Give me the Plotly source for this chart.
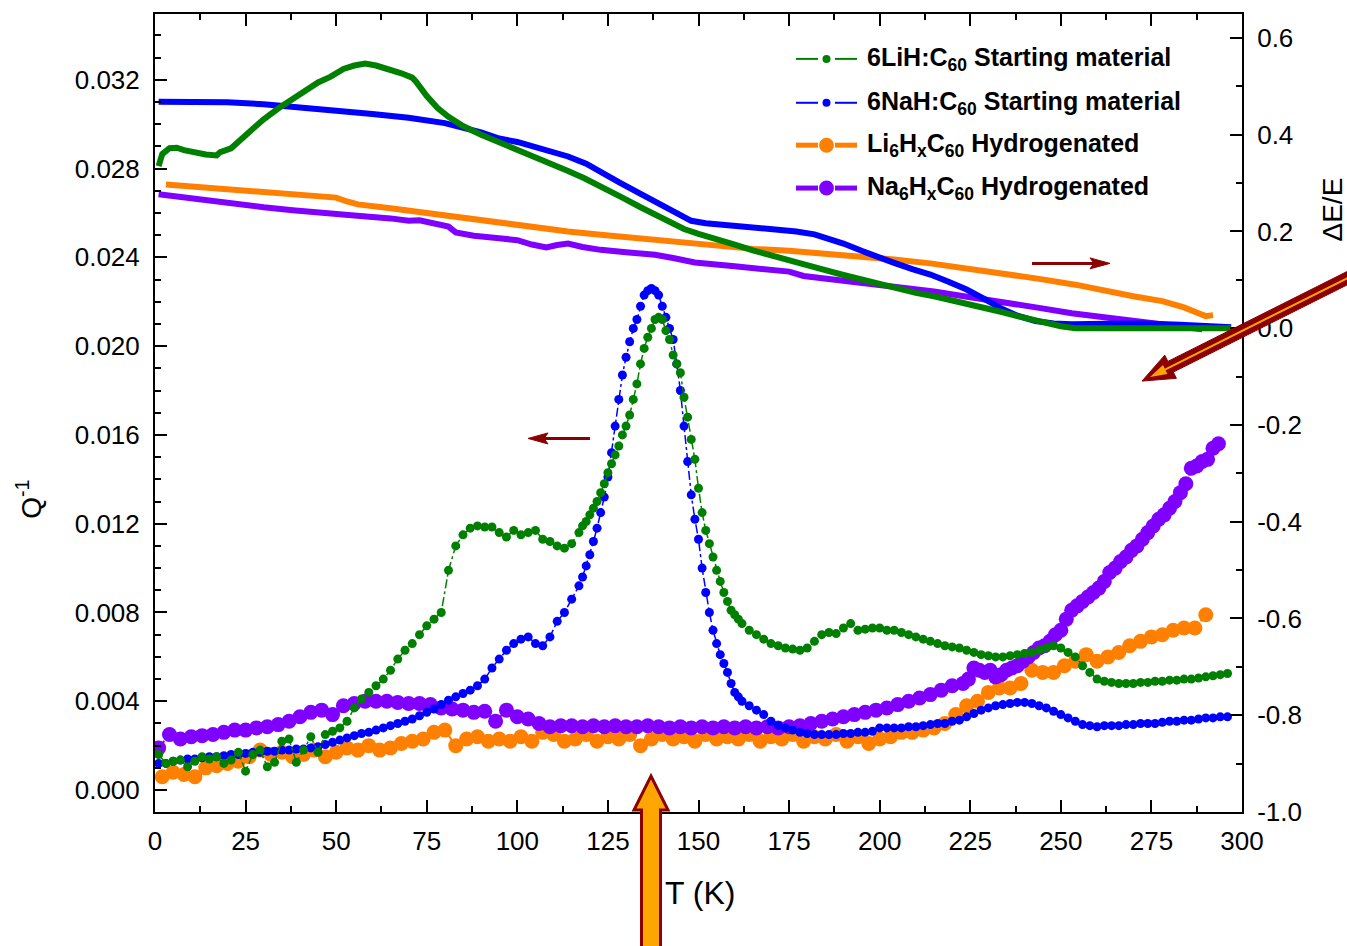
import plotly.graph_objects as go

# ---------------- data: internal friction Q^-1 (left axis, units of 1e-3) ----------------
T_START = [1, 3, 5, 7, 9, 11, 13, 15, 17, 19, 21, 23, 25, 27, 29, 31, 33, 35, 37, 39,
           41, 43, 45, 47, 49, 51, 53, 55, 57, 59, 61, 63, 65, 67, 69, 71, 73, 75, 77, 79,
           81, 83, 85, 87, 89, 91, 93, 95, 97, 99, 101, 103, 105, 107, 109, 111, 113, 115, 117,
           118, 119, 120, 121, 122, 123, 124, 125, 126, 127, 128, 129, 130, 131, 132, 133, 134,
           135, 136, 137, 138, 139, 140, 141, 142, 143, 144, 145, 146, 147, 148, 149, 150, 151,
           152, 153, 154, 155, 156, 157, 158, 159, 160, 161, 162,
           164, 166, 168, 170, 172, 174, 176, 178, 180, 182, 184, 186, 188, 190, 192, 194, 196,
           198, 200, 202, 204, 206, 208, 210, 212, 214, 216, 218, 220, 222, 224, 226, 228, 230,
           232, 234, 236, 238, 240, 242, 244, 246, 248, 250, 252, 254, 256, 258, 260, 262, 264,
           266, 268, 270, 272, 274, 276, 278, 280, 282, 284, 286, 288, 290, 292, 294, 296]

Q_NAH_START = [1.2, 1.2, 1.3, 1.35, 1.4, 1.4, 1.45, 1.5, 1.5, 1.55, 1.6, 1.6, 1.65, 1.7, 1.7,
               1.75, 1.75, 1.8, 1.8, 1.85, 1.85, 1.9, 1.95, 2.05, 2.15, 2.25, 2.35, 2.45, 2.55,
               2.6, 2.7, 2.8, 2.9, 3.0, 3.1, 3.2, 3.35, 3.5, 3.65, 3.85, 4.05, 4.2, 4.35, 4.5,
               4.7, 5.0, 5.5, 5.9, 6.3, 6.6, 6.8, 6.9, 6.6, 6.5, 6.9, 7.6, 8.0, 8.6, 9.2,
               9.6, 10.1, 10.6, 11.2, 11.8, 12.5, 13.2, 14.1, 15.2, 16.4, 17.6, 18.7, 19.5, 20.2,
               20.8, 21.2, 21.8, 22.3, 22.5, 22.6, 22.5, 22.3, 21.8, 21.3, 20.8, 20.3, 19.2, 18.0,
               16.4, 14.8, 13.3, 12.2, 11.3, 10.0, 8.9, 8.0, 7.2, 6.6, 6.1, 5.7, 5.3, 4.8, 4.4,
               4.2, 4.0,
               3.8, 3.6, 3.4, 3.1, 2.9, 2.8, 2.7, 2.6, 2.55, 2.5, 2.5, 2.5, 2.5, 2.55, 2.55, 2.6,
               2.6, 2.65, 2.8, 2.8, 2.8, 2.8, 2.85, 2.85, 2.9, 2.95, 3.0, 3.0, 3.1, 3.15, 3.3,
               3.45, 3.6, 3.7, 3.8, 3.85, 3.9, 3.95, 3.95, 3.9, 3.8, 3.7, 3.55, 3.4, 3.25, 3.1,
               2.95, 2.9, 2.85, 2.9, 2.9, 2.9, 2.95, 2.95, 3.0, 3.0, 3.0, 3.05, 3.1, 3.1, 3.15,
               3.15, 3.2, 3.25, 3.25, 3.3, 3.3]

Q_LIH_START = [1.6, 1.2, 1.3, 1.35, 1.05, 1.3, 1.5, 1.4, 1.5, 1.2, 1.35, 1.7, 0.85, 1.6, 1.8,
               1.05, 1.25, 2.2, 2.3, 1.25, 1.8, 2.4, 1.7, 2.5, 2.65, 2.8, 3.1, 3.7, 4.1, 4.4,
               4.7, 5.0, 5.4, 5.9, 6.3, 6.6, 7.0, 7.4, 7.7, 8.0, 9.9, 11.0, 11.5, 11.8, 11.9,
               11.85, 11.85, 11.6, 11.4, 11.7, 11.5, 11.6, 11.7, 11.3, 11.2, 11.0, 10.9, 11.1, 11.6,
               11.9, 12.1, 12.4, 12.7, 13.0, 13.4, 13.8, 14.3, 14.7, 15.1, 15.5, 16.0, 16.4, 16.9,
               17.6, 18.3, 19.2, 19.9, 20.4, 20.8, 21.2, 21.3, 21.2, 20.7, 20.3, 19.6, 19.2, 18.8,
               17.7, 16.8, 15.8, 14.9, 13.6, 12.5, 11.7, 11.1, 10.5, 9.9, 9.4, 8.9, 8.5, 8.1,
               7.9, 7.7, 7.5,
               7.2, 7.0, 6.8, 6.6, 6.5, 6.4, 6.35, 6.3, 6.4, 6.7, 7.0, 7.1, 7.05, 7.3, 7.5, 7.2,
               7.25, 7.3, 7.3, 7.2, 7.2, 7.1, 7.0, 6.9, 6.8, 6.7, 6.6, 6.5, 6.45, 6.4, 6.3, 6.2,
               6.1, 6.05, 6.0, 6.0, 6.05, 6.1, 6.15, 6.2, 6.3, 6.4, 6.5, 6.4, 6.2, 6.0, 5.6, 5.3,
               5.0, 4.9, 4.85, 4.8, 4.8, 4.8, 4.85, 4.85, 4.9, 4.9, 4.95, 4.95, 5.0, 5.0, 5.05,
               5.1, 5.15, 5.2, 5.25]

T_LI_HYD = [2, 5, 8, 11, 14, 17, 20, 23, 26, 29, 32, 35, 38, 41, 44, 47, 50, 53, 56, 59, 62,
            65, 68, 71, 74, 77, 80, 83, 86, 89, 92, 95, 98, 101, 104, 107, 110, 113, 116, 119,
            122, 125, 128, 131, 134, 137, 140, 143, 146, 149, 152, 155, 158, 161, 164, 167, 170,
            173, 176, 179, 182, 185, 188, 191, 194, 197, 200, 203, 206, 209, 212, 215, 218, 221,
            224, 227, 230, 233, 236, 239, 242, 245, 248, 251, 254, 257, 260, 263, 266, 269, 272,
            275, 278, 281, 284, 287, 290]
Q_LI_HYD = [0.6, 0.8, 0.7, 0.6, 1.0, 1.1, 1.2, 1.3, 1.5, 1.8, 1.6, 1.7, 1.5, 1.6, 1.8, 1.5,
            1.7, 1.9, 1.8, 2.0, 1.8, 1.9, 2.1, 2.2, 2.3, 2.6, 2.7, 2.0, 2.3, 2.4, 2.2, 2.3, 2.2,
            2.4, 2.2, 2.6, 2.5, 2.2, 2.3, 2.5, 2.2, 2.4, 2.3, 2.5, 2.0, 2.3, 2.5, 2.3, 2.4, 2.2,
            2.5, 2.3, 2.4, 2.3, 2.5, 2.2, 2.4, 2.3, 2.5, 2.2, 2.4, 2.3, 2.5, 2.2, 2.4, 2.1, 2.3,
            2.4, 2.6, 2.6, 2.7, 2.8, 3.0, 3.4, 3.8, 4.0, 4.4, 4.6, 4.6, 4.8, 5.4, 5.3, 5.3, 5.6,
            5.8, 6.1, 5.8, 6.0, 6.2, 6.5, 6.7, 6.9, 7.0, 7.2, 7.3, 7.3, 7.9]

T_NA_HYD = [1, 4, 7, 10, 13, 16, 19, 22, 25, 28, 31, 34, 37, 40, 43, 46, 49, 52, 55, 58, 61,
            64, 67, 70, 73, 76, 79, 82, 85, 88, 91, 94, 97, 100, 103, 106, 109, 112, 115, 118,
            121, 124, 127, 130, 133, 136, 139, 142, 145, 148, 151, 154, 157, 160, 163, 166, 169,
            172, 175, 178, 181, 184, 187, 190, 193, 196, 199, 202, 205, 208, 211, 214, 217, 220,
            223, 224.5, 226, 227.5, 229, 230.5, 232, 233.5, 235, 236.5, 238, 239.5, 241, 242.5,
            244, 245.5, 247, 248.5, 250, 251.5, 253, 254.5, 256, 257.5, 259, 260.5, 262, 263.5,
            265, 266.5, 268, 269.5, 271, 272.5, 274, 275.5, 277, 278.5, 280, 281.5, 283, 284.5,
            286, 287.5, 289, 290.5, 292, 293.5]
Q_NA_HYD = [1.9, 2.5, 2.3, 2.4, 2.45, 2.5, 2.6, 2.7, 2.7, 2.8, 2.85, 2.95, 3.1, 3.3, 3.5, 3.6,
            3.4, 3.8, 3.9, 4.0, 4.0, 4.0, 3.95, 3.9, 3.9, 3.85, 3.7, 3.65, 3.6, 3.5, 3.55, 3.1,
            3.6, 3.3, 3.2, 3.0, 2.85, 2.9, 2.9, 2.85, 2.9, 2.85, 2.9, 2.85, 2.85, 2.9, 2.85, 2.8,
            2.85, 2.8, 2.85, 2.8, 2.85, 2.8, 2.85, 2.8, 2.85, 2.8, 2.85, 2.9, 3.0, 3.1, 3.2, 3.3,
            3.4, 3.5, 3.6, 3.7, 3.85, 4.0, 4.15, 4.3, 4.5, 4.7,
            4.8, 5.0, 5.5, 5.4, 5.3, 5.4, 5.1, 5.2, 5.4, 5.5, 5.6, 5.8, 6.0, 6.2, 6.4, 6.5, 6.7,
            7.0, 7.2, 7.7, 8.1, 8.3, 8.5, 8.7, 8.9, 9.1, 9.4, 9.8, 10.0, 10.3, 10.5, 10.8, 11.0,
            11.3, 11.6, 11.9, 12.2, 12.4, 12.7, 13.0, 13.4, 13.8, 14.5, 14.6, 14.8, 14.9, 15.4,
            15.6]

# ---------------- data: modulus change dE/E (right axis) ----------------
T_LIH_DE = [1, 2, 4, 6, 8, 11, 14, 17, 18, 21, 23, 25, 27, 30, 34, 38, 42, 45, 48.5, 52, 55,
            58, 61, 64, 68, 71, 72, 75, 78, 81, 85, 90, 95, 100, 104, 109, 114, 118.5, 124, 129,
            134, 138, 142, 146, 150, 155, 160, 165, 170, 175, 180, 184, 190, 195, 200, 205, 210,
            215, 220, 225, 230, 234, 238, 242, 246, 250, 254, 260, 266, 273, 280, 287, 293, 297]
DE_LIH = [0.335, 0.36, 0.372, 0.373, 0.368, 0.362, 0.359, 0.357, 0.364, 0.372, 0.385, 0.398,
          0.415, 0.432, 0.454, 0.475, 0.495, 0.508, 0.52, 0.536, 0.543, 0.547, 0.543, 0.537,
          0.527, 0.518, 0.51, 0.48, 0.455, 0.437, 0.418, 0.4, 0.385, 0.37, 0.358, 0.343, 0.325,
          0.31, 0.29, 0.27, 0.25, 0.235, 0.22, 0.205, 0.195, 0.185, 0.173, 0.161, 0.15, 0.14,
          0.13, 0.122, 0.11, 0.1, 0.092, 0.083, 0.073, 0.066, 0.058, 0.05, 0.04, 0.033, 0.025,
          0.018, 0.01, 0.004, 0.0, 0.0, 0.002, 0.003, 0.003, 0.002, 0.001, 0.0]

T_NAH_DE = [1, 10, 20, 30, 40, 50, 60, 70, 80, 90, 95, 100, 105, 110, 114, 119, 123, 128, 133,
            138, 142, 145, 148, 152, 157, 162, 167, 172, 177, 182, 186, 190, 195, 199, 204, 209,
            214, 219, 224, 229, 234, 238, 243, 248, 253, 263, 273, 283, 293, 297]
DE_NAH = [0.468, 0.468, 0.467, 0.463, 0.457, 0.45, 0.443, 0.435, 0.424, 0.405, 0.392, 0.385,
          0.375, 0.363, 0.355, 0.34, 0.322, 0.302, 0.282, 0.262, 0.243, 0.232, 0.222, 0.217,
          0.214, 0.211, 0.208, 0.204, 0.2, 0.194, 0.186, 0.175, 0.16, 0.148, 0.135, 0.122,
          0.111, 0.096, 0.08, 0.06, 0.039, 0.026, 0.015, 0.01, 0.008, 0.009, 0.01, 0.007,
          0.004, 0.002]

T_LI_HYD_DE = [3, 10, 18, 25, 32, 40, 47, 50, 53, 56, 65, 75, 85, 95, 104, 114, 123, 133, 141,
               149, 157, 165, 175, 184, 194, 204, 214, 224, 234, 244, 254, 263, 270, 278, 284,
               288, 290, 292]
DE_LI_HYD = [0.297, 0.293, 0.289, 0.284, 0.279, 0.274, 0.27, 0.27, 0.262, 0.256, 0.248, 0.238,
             0.228, 0.217, 0.208, 0.2, 0.193, 0.186, 0.181, 0.176, 0.169, 0.164, 0.16, 0.155,
             0.149, 0.142, 0.134, 0.124, 0.113, 0.102, 0.09, 0.076, 0.066, 0.056, 0.043, 0.031,
             0.025, 0.027]

T_NA_HYD_DE = [1, 8, 15, 22, 30, 38, 46, 55, 65, 70, 73, 78, 81, 83, 88, 95, 100, 104, 108, 111,
               114, 118, 123, 130, 138, 143, 149, 160, 170, 175, 179, 190, 204, 215, 225, 234,
               244, 253, 263, 273, 281, 289]
DE_NA_HYD = [0.277, 0.27, 0.264, 0.257, 0.25, 0.244, 0.238, 0.233, 0.227, 0.222, 0.223, 0.216,
             0.21, 0.198, 0.191, 0.186, 0.182, 0.173, 0.167, 0.172, 0.175, 0.168, 0.162, 0.157,
             0.152, 0.145, 0.136, 0.128, 0.121, 0.117, 0.108, 0.098, 0.087, 0.076, 0.064, 0.055,
             0.042, 0.031, 0.022, 0.014, 0.007, -0.002]

# ---------------- axes ticks ----------------
X_TICKS = [0, 25, 50, 75, 100, 125, 150, 175, 200, 225, 250, 275, 300]
Q_TICKS = [0.000, 0.004, 0.008, 0.012, 0.016, 0.020, 0.024, 0.028, 0.032]
DE_TICKS = [-1.0, -0.8, -0.6, -0.4, -0.2, 0.0, 0.2, 0.4, 0.6]
DE_TICK_TEXT = ["-1.0", "-0.8", "-0.6", "-0.4", "-0.2", "0.0", "0.2", "0.4", "0.6"]

LEGEND_TEXT = [
    "6LiH:C<sub>60</sub> Starting material",
    "6NaH:C<sub>60</sub> Starting material",
    "Li<sub>6</sub>H<sub>x</sub>C<sub>60</sub> Hydrogenated",
    "Na<sub>6</sub>H<sub>x</sub>C<sub>60</sub> Hydrogenated",
]

GREEN, BLUE, ORANGE, PURPLE = "#008000", "#0000FF", "#FF8000", "#8000FF"
DARK_RED, ARROW_FILL = "#8B0000", "#FFA500"
FONT = "Arial, Liberation Sans, sans-serif"

# ---------------- geometry ----------------
W, H = 1347, 946
PL, PR, PT, PB = 155, 1242, 12, 812


def px(x):
    return (x - PL) / (PR - PL)


def py(y):
    return (PB - y) / (PB - PT)


def path_of(points):
    pts = [f"{px(x):.5f},{py(y):.5f}" for x, y in points]
    return "M " + " L ".join(pts) + " Z"


fig = go.Figure()

# modulus curves (right axis)
for t, v, c in [(T_LI_HYD_DE, DE_LI_HYD, ORANGE), (T_NA_HYD_DE, DE_NA_HYD, PURPLE),
                (T_NAH_DE, DE_NAH, BLUE), (T_LIH_DE, DE_LIH, GREEN)]:
    fig.add_trace(go.Scatter(x=t, y=v, mode="lines", yaxis="y2",
                             line=dict(color=c, width=6), showlegend=False,
                             hoverinfo="skip"))

# internal friction curves (left axis)
for t, q, c, size, lw in [(T_LI_HYD, Q_LI_HYD, ORANGE, 15, 2),
                          (T_NA_HYD, Q_NA_HYD, PURPLE, 15, 2),
                          (T_START, Q_NAH_START, BLUE, 9, 1.5),
                          (T_START, Q_LIH_START, GREEN, 9, 1.5)]:
    fig.add_trace(go.Scatter(x=t, y=[v / 1000 for v in q], mode="lines+markers",
                             line=dict(color=c, width=lw, dash="dashdot"),
                             marker=dict(color=c, size=size, line=dict(width=0)),
                             showlegend=False, hoverinfo="skip"))

tickfont = dict(family=FONT, size=26, color="black")
fig.update_layout(
    width=W, height=H,
    margin=dict(l=PL, r=W - PR, t=PT, b=H - PB),
    paper_bgcolor="white", plot_bgcolor="white",
    showlegend=False,
    xaxis=dict(range=[0, 300], tickvals=X_TICKS, ticks="inside", ticklen=12, tickwidth=2,
               tickcolor="black", showline=True, linewidth=2, linecolor="black",
               mirror="ticks", showgrid=False, zeroline=False, tickfont=tickfont,
               ticklabelstandoff=5,
               minor=dict(dtick=12.5, tick0=0, ticks="inside", ticklen=6, tickwidth=2,
                          tickcolor="black", showgrid=False)),
    yaxis=dict(range=[-0.000989, 0.034966], tickvals=Q_TICKS, tickformat=".3f",
               ticks="inside", ticklen=12, tickwidth=2, tickcolor="black", showline=True,
               linewidth=2, linecolor="black", showgrid=False, zeroline=False,
               tickfont=tickfont, ticklabelstandoff=8,
               minor=dict(dtick=0.001, tick0=0, ticks="inside", ticklen=6, tickwidth=2,
                          tickcolor="black", showgrid=False)),
    yaxis2=dict(range=[-1.0, 0.6495], tickvals=DE_TICKS, ticktext=DE_TICK_TEXT,
                overlaying="y", side="right", anchor="x",
                ticks="inside", ticklen=12, tickwidth=2, tickcolor="black", showline=True,
                linewidth=2, linecolor="black", showgrid=False, zeroline=False,
                tickfont=tickfont, ticklabelstandoff=8,
                minor=dict(dtick=0.1, tick0=0, ticks="inside", ticklen=6, tickwidth=2,
                           tickcolor="black", showgrid=False)),
)

# axis titles
fig.add_annotation(text="T (K)", x=px(700), y=py(893), xref="paper", yref="paper",
                   xanchor="center", yanchor="middle", showarrow=False,
                   font=dict(family=FONT, size=32, color="black"))
fig.add_annotation(text="Q<sup>-1</sup>", x=px(29), y=py(499), xref="paper", yref="paper",
                   xanchor="center", yanchor="middle", showarrow=False, textangle=-90,
                   font=dict(family=FONT, size=28, color="black"))
fig.add_annotation(text="\u0394E/E", x=px(1333), y=py(208), xref="paper", yref="paper",
                   xanchor="center", yanchor="middle", showarrow=False, textangle=-90,
                   font=dict(family=FONT, size=28, color="black"))

# legend drawn by hand
legend_rows = [(57, GREEN, 2, 8), (101, BLUE, 2, 8), (143.5, ORANGE, 5, 15), (186.5, PURPLE, 5, 15)]
for (yc, col, lw, dm), label in zip(legend_rows, LEGEND_TEXT):
    for xa, xb in [(796, 818), (835, 857)]:
        fig.add_shape(type="line", xref="paper", yref="paper", x0=px(xa), x1=px(xb),
                      y0=py(yc), y1=py(yc), line=dict(color=col, width=lw))
    r = dm / 2
    fig.add_shape(type="circle", xref="paper", yref="paper", x0=px(826.5 - r),
                  x1=px(826.5 + r), y0=py(yc + r), y1=py(yc - r),
                  fillcolor=col, line=dict(width=0))
    fig.add_annotation(text=f"<b>{label}</b>", x=px(865), y=py(yc), xref="paper",
                       yref="paper", xanchor="left", yanchor="middle", showarrow=False,
                       font=dict(family=FONT, size=25, color="black"))

# small direction arrows pointing to the relevant axis
fig.add_shape(type="line", xref="paper", yref="paper", x0=px(590), x1=px(542),
              y0=py(437.5), y1=py(437.5), line=dict(color=DARK_RED, width=3))
fig.add_shape(type="path", xref="paper", yref="paper",
              path=path_of([(528, 437.5), (548, 432), (544, 437.5), (548, 443)]),
              fillcolor=DARK_RED, line=dict(color=DARK_RED, width=1))
fig.add_shape(type="line", xref="paper", yref="paper", x0=px(1032), x1=px(1096),
              y0=py(262), y1=py(262), line=dict(color=DARK_RED, width=3))
fig.add_shape(type="path", xref="paper", yref="paper",
              path=path_of([(1110, 262), (1090, 256.5), (1094, 262), (1090, 267.5)]),
              fillcolor=DARK_RED, line=dict(color=DARK_RED, width=1))

# vertical block arrow marking the transition temperature
fig.add_shape(type="path", xref="paper", yref="paper",
              path=path_of([(641.5, 952), (641.5, 810), (634, 810), (651, 776),
                            (668, 810), (660.5, 810), (660.5, 952)]),
              fillcolor=ARROW_FILL, line=dict(color=DARK_RED, width=3))

# diagonal arrow pointing at dE/E = 0
tip = (1142, 380)
ux, uy = -0.893, 0.449
nx, ny = -uy, ux
tail = (tip[0] - 320 * ux, tip[1] - 320 * uy)
hw, head_len, head_hw = 6.0, 32.0, 13.0
base = (tip[0] - head_len * ux, tip[1] - head_len * uy)
diag = [
    (tail[0] + hw * nx, tail[1] + hw * ny),
    (base[0] + hw * nx, base[1] + hw * ny),
    (base[0] + head_hw * nx, base[1] + head_hw * ny),
    tip,
    (base[0] - head_hw * nx, base[1] - head_hw * ny),
    (base[0] - hw * nx, base[1] - hw * ny),
    (tail[0] - hw * nx, tail[1] - hw * ny),
]
fig.add_shape(type="path", xref="paper", yref="paper", path=path_of(diag),
              fillcolor=DARK_RED, line=dict(color=DARK_RED, width=1))
inner_end = (tip[0] - 14 * ux, tip[1] - 14 * uy)
fig.add_shape(type="line", xref="paper", yref="paper", x0=px(tail[0]), y0=py(tail[1]),
              x1=px(inner_end[0]), y1=py(inner_end[1]),
              line=dict(color=ARROW_FILL, width=2))
inner_base = (tip[0] - 26 * ux, tip[1] - 26 * uy)
fig.add_shape(type="path", xref="paper", yref="paper",
              path=path_of([(tip[0] - 9 * ux, tip[1] - 9 * uy),
                            (inner_base[0] + 5 * nx, inner_base[1] + 5 * ny),
                            (inner_base[0] - 5 * nx, inner_base[1] - 5 * ny)]),
              fillcolor=ARROW_FILL, line=dict(width=0))

fig.write_html("out.html")
